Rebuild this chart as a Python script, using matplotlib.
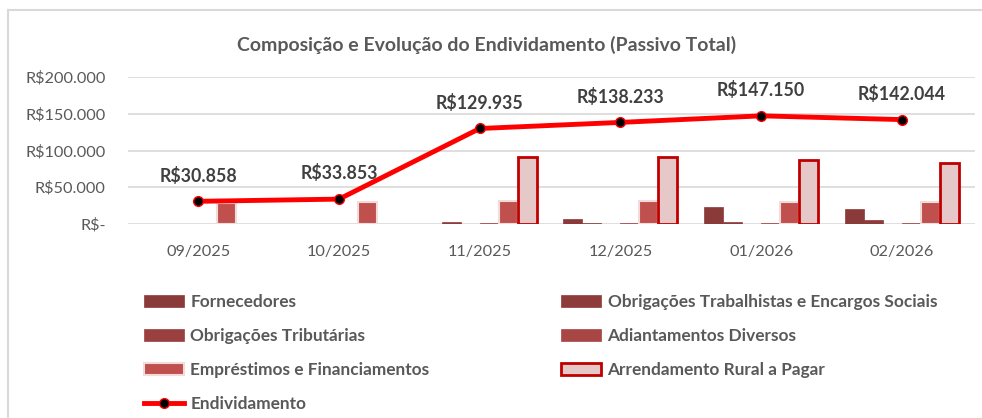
import numpy as np
import matplotlib.pyplot as plt
from matplotlib.lines import Line2D
from matplotlib.patches import Patch

plt.rcParams['font.family'] = ['Lato', 'DejaVu Sans']

# Dados
meses = ['09/2025', '10/2025', '11/2025', '12/2025', '01/2026', '02/2026']
fornecedores = [0, 0, 0, 7200, 23500, 20800]
obrig_trabalhistas = [0, 0, 3300, 1800, 3000, 5800]
obrig_tributarias = [0, 0, 0, 0, 0, 0]
adiantamentos = [0, 0, 1500, 1500, 1500, 1500]
emprestimos = [29000, 29500, 30700, 30700, 30000, 29400]
arrendamento = [0, 0, 91000, 91000, 86500, 82400]
endividamento = [30858, 33853, 129935, 138233, 147150, 142044]
rotulos = ['R$30.858', 'R$33.853', 'R$129.935', 'R$138.233', 'R$147.150', 'R$142.044']

series = [
    ('Fornecedores', fornecedores, '#8B3A3A', '#8B3A3A', 0.5),
    ('Obrigações Trabalhistas e Encargos Sociais', obrig_trabalhistas, '#8E3B3B', '#8E3B3B', 0.5),
    ('Obrigações Tributárias', obrig_tributarias, '#9A4040', '#9A4040', 0.5),
    ('Adiantamentos Diversos', adiantamentos, '#A84545', '#A84545', 0.5),
    ('Empréstimos e Financiamentos', emprestimos, '#C0504D', '#F2DCDB', 1.5),
    ('Arrendamento Rural a Pagar', arrendamento, '#E6C8C9', '#C00000', 2.0),
]

fig = plt.figure(figsize=(9.82, 4.18), dpi=100)
ax = fig.add_axes([128 / 982, 1 - 224 / 418, (975 - 128) / 982, (224 - 77) / 418])

x = np.arange(len(meses))
w = 0.135
handles = []
for i, (nome, vals, cor, borda, lw) in enumerate(series):
    vals = np.array(vals, dtype=float)
    m = vals > 0
    if m.any():
        ax.bar(x[m] + (i - 2.5) * w, vals[m], w, color=cor, edgecolor=borda, linewidth=lw, zorder=2)
    handles.append(Patch(facecolor=cor, edgecolor=borda, linewidth=lw, label=nome))

ax.plot(x, endividamento, color='#FF0000', linewidth=3.5, marker='o', markersize=7,
        markerfacecolor='black', markeredgecolor='#FF0000', markeredgewidth=1, zorder=3)
handles.append(Line2D([0], [0], color='#FF0000', linewidth=3.5, marker='o', markersize=7,
                      markerfacecolor='black', markeredgecolor='#FF0000', label='Endividamento'))

for xi, v, t in zip(x, endividamento, rotulos):
    ax.annotate(t, (xi, v), xytext=(0, 12), textcoords='offset points', ha='center',
                va='bottom', fontsize=12.8, fontweight='bold', color='#404040')

ax.set_xlim(-0.5, 5.52)
ax.set_ylim(0, 200000)
ax.set_yticks([0, 50000, 100000, 150000, 200000])
ax.set_yticklabels(['R$-', 'R$50.000', 'R$100.000', 'R$150.000', 'R$200.000'])
ax.set_xticks(x)
ax.set_xticklabels(meses)
ax.tick_params(axis='both', length=0, labelsize=11.7, labelcolor='#595959')
ax.tick_params(axis='y', pad=16)
ax.tick_params(axis='x', pad=15)
ax.grid(axis='y', color='#D9D9D9', linewidth=1.2, zorder=0)
ax.set_axisbelow(True)
for s in ax.spines.values():
    s.set_visible(False)

fig.text(487 / 982, 1 - 45 / 418, 'Composição e Evolução do Endividamento (Passivo Total)',
         ha='center', va='center', fontsize=14, fontweight='bold', color='#595959')

# legenda em duas colunas
opts = dict(frameon=False, prop={'size': 12.4, 'weight': 'bold'}, labelcolor='#595959',
            handlelength=2.3, handleheight=0.65, labelspacing=1.05, handletextpad=0.4,
            borderaxespad=0, borderpad=0)
col1 = [handles[i] for i in [0, 2, 4, 6]]
col2 = [handles[i] for i in [1, 3, 5]]
fig.legend(col1, [h.get_label() for h in col1], loc='upper left',
           bbox_to_anchor=(144 / 982, 1 - 294 / 418), **opts)
fig.legend(col2, [h.get_label() for h in col2], loc='upper left',
           bbox_to_anchor=(561 / 982, 1 - 294 / 418), **opts)

# borda do gráfico
fig.add_artist(Line2D([8 / 982, 8 / 982], [0, 1 - 10 / 418], color='#D9D9D9', linewidth=1.5))
fig.add_artist(Line2D([8 / 982, 1], [1 - 10 / 418, 1 - 10 / 418], color='#D9D9D9', linewidth=1.5))

plt.savefig('out.png', dpi=100)
